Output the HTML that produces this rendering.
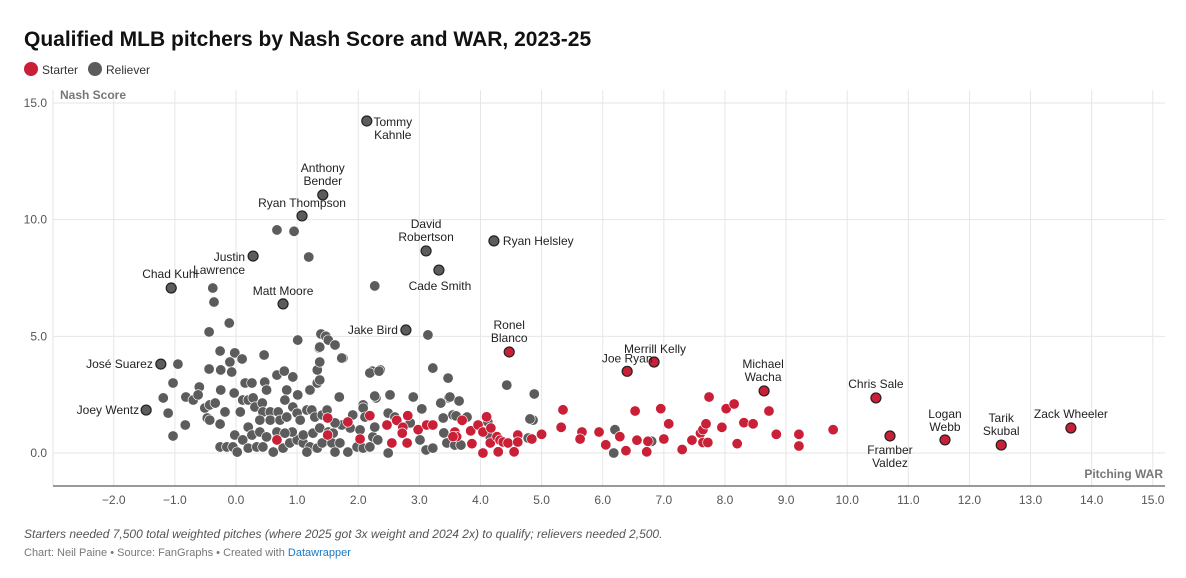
<!DOCTYPE html>
<html><head><meta charset="utf-8">
<style>
body{margin:0;background:#fff;font-family:"Liberation Sans",sans-serif;}
#wrap{position:relative;width:1186px;height:578px;overflow:hidden;}
svg text{font-family:"Liberation Sans",sans-serif;}
</style></head>
<body>
<div id="wrap">
<svg id="chart" width="1186" height="578">
<text x="24" y="46" font-size="21" font-weight="bold" fill="#111">Qualified MLB pitchers by Nash Score and WAR, 2023-25</text>
<g>
<circle cx="31" cy="69" r="7" fill="#c91f37"/>
<text x="42" y="74" font-size="12" fill="#333">Starter</text>
<circle cx="95" cy="69" r="7" fill="#5c5c5c"/>
<text x="106" y="74" font-size="12" fill="#333">Reliever</text>
</g>
<g id="grid"></g>
<g id="points"></g>
<g id="labels"></g>
<text x="60" y="99" font-size="12" font-weight="bold" fill="#777">Nash Score</text>
<text x="1163" y="478" font-size="12" font-weight="bold" fill="#777" text-anchor="end">Pitching WAR</text>
<text x="24" y="538" font-size="12" font-style="italic" fill="#555">Starters needed 7,500 total weighted pitches (where 2025 got 3x weight and 2024 2x) to qualify; relievers needed 2,500.</text>
<text x="24" y="556" font-size="11" fill="#777">Chart: Neil Paine • Source: FanGraphs • Created with <tspan fill="#1a78c2">Datawrapper</tspan></text>
</svg>
</div>
<script>
const xTicks=[-2,-1,0,1,2,3,4,5,6,7,8,9,10,11,12,13,14,15];
const yTicks=[0,5,10,15];
const starterWar=[4.99,5.35,5.32,5.66,5.63,5.94,6.05,6.28,6.38,6.53,6.56,6.74,6.72,6.95,7.0,7.08,7.3,7.46,7.6,7.64,7.69,7.64,7.72,7.74,7.95,8.02,8.15,8.2,8.31,8.46,8.72,8.84,9.21,9.21,9.77,
1.83,2.19,2.47,2.63,2.81,2.73,2.72,2.8,2.98,3.12,3.22,3.58,3.61,3.55,3.7,3.86,3.84,3.96,4.04,4.1,4.17,4.04,4.16,4.27,4.32,4.37,4.29,4.45,4.55,4.61,4.61,4.84,5.0,2.55,2.03,0.67,1.5,1.5];
const starterNash=[0.8,1.85,1.1,0.9,0.6,0.9,0.35,0.7,0.1,1.8,0.55,0.5,0.05,1.9,0.6,1.25,0.15,0.55,0.85,1.0,1.25,0.45,0.45,2.4,1.1,1.9,2.1,0.4,1.3,1.25,1.8,0.8,0.8,0.3,1.0,
1.33,1.6,1.2,1.4,1.6,1.1,0.85,0.43,1.0,1.2,1.2,0.9,0.7,0.7,1.4,0.4,0.95,1.2,0.9,1.55,1.07,0.0,0.43,0.7,0.55,0.47,0.05,0.43,0.05,0.77,0.47,0.6,0.8,0.43,0.6,0.56,1.5,0.77];
const relieverWar=[6.2,6.18,6.8,0.67,0.95,1.19,2.27,-0.38,-0.36,-0.11,-0.44,3.14,1.01,1.39,1.47,1.36,1.75,2.23,2.36,3.22,3.47,4.43,4.88,3.48,2.52,2.29,3.55,4.86,4.8,
-0.26,-0.02,0.1,0.46,-0.95,-0.44,-0.25,-0.1,-0.07,-1.03,-0.6,-0.25,-0.03,0.15,0.26,0.47,0.5,0.67,0.79,0.93,0.83,0.8,1.01,1.21,1.33,1.37,1.33,1.37,1.37,
-1.19,-0.82,-0.7,-0.62,-1.11,-0.83,-1.03,-0.51,-0.43,-0.34,-0.47,-0.43,-0.18,-0.26,0.07,0.11,0.2,0.28,0.31,0.43,0.44,0.56,0.69,0.39,0.56,0.72,0.83,0.93,1.0,1.05,1.16,1.24,1.29,1.41,1.49,0.2,-0.02,0.26,0.39,0.5,0.11,-0.26,-0.15,-0.05,0.02,0.2,0.34,0.44,0.61,0.77,0.88,1.0,1.1,1.21,1.16,1.33,1.41,0.92,1.1,1.26,1.37,0.67,0.8,
1.51,1.62,1.73,2.19,2.34,1.69,2.27,2.08,2.08,2.11,1.91,1.87,1.73,1.62,1.51,1.59,1.57,1.7,1.62,1.83,1.98,2.08,2.19,2.24,2.32,2.27,2.03,2.49,2.6,2.49,2.85,2.9,3.04,3.35,3.5,3.65,3.39,3.6,3.78,3.4,3.45,3.58,3.68,3.01,3.11,3.22,4.12,4.16,4.81,4.78];
const relieverNash=[1.0,0.0,0.5,9.56,9.5,8.4,7.16,7.07,6.47,5.57,5.19,5.06,4.84,5.1,5.0,4.5,4.07,3.51,3.56,3.64,3.21,2.91,2.53,2.36,2.49,2.36,1.63,1.41,0.64,
4.37,4.29,4.03,4.2,3.81,3.6,3.56,3.9,3.47,3.0,2.83,2.7,2.57,3.0,3.0,3.04,2.7,3.34,3.51,3.26,2.7,2.27,2.49,2.7,3.0,3.13,3.56,3.9,4.54,
2.36,2.4,2.27,2.49,1.71,1.2,0.73,1.93,2.06,2.14,1.5,1.41,1.76,1.24,1.76,2.27,2.27,2.36,1.97,2.14,1.76,1.76,1.76,1.41,1.41,1.41,1.54,1.97,1.71,1.41,1.84,1.84,1.54,1.63,1.84,1.11,0.77,0.77,0.9,0.69,0.56,0.26,0.26,0.26,0.04,0.21,0.26,0.26,0.04,0.21,0.43,0.56,0.43,0.26,0.04,0.21,0.43,0.9,0.77,0.85,1.07,0.9,0.85,
4.84,4.63,4.07,3.43,3.51,2.4,2.44,2.06,1.93,1.54,1.63,1.07,1.2,1.29,0.9,0.85,0.43,0.43,0.04,0.04,0.26,0.21,0.26,0.69,0.56,1.11,0.99,1.71,1.54,0.0,1.29,2.4,1.89,2.14,2.4,2.23,1.5,1.59,1.54,0.86,0.43,0.34,0.34,0.56,0.13,0.21,1.33,0.69,1.46,0.64];
const labeledNames=["Tommy|Kahnle","Anthony|Bender","Ryan Thompson","David|Robertson","Ryan Helsley","Cade Smith","Justin|Lawrence","Chad Kuhl","Matt Moore","Jake Bird","José Suarez","Joey Wentz","Ronel|Blanco","Merrill Kelly","Joe Ryan","Michael|Wacha","Chris Sale","Framber|Valdez","Logan|Webb","Tarik|Skubal","Zack Wheeler"];
const labeledWar=[2.14,1.42,1.08,3.11,4.22,3.32,0.28,-1.06,0.77,2.78,-1.23,-1.47,4.47,6.84,6.4,8.64,10.47,10.7,11.6,12.52,13.66];
const labeledNash=[14.23,11.06,10.16,8.66,9.09,7.84,8.44,7.07,6.39,5.27,3.81,1.84,4.33,3.9,3.5,2.66,2.36,0.73,0.56,0.34,1.07];
const labeledType=["r","r","r","r","r","r","r","r","r","r","r","r","s","s","s","s","s","s","s","s","s"];
// label placement (pixel offsets, anchor) — presentation only
const lblDx=[26,0,0,0,9,1,-8,-1,0,-8,-8,-7,0,1,0,-1,0,0,0,0,0];
const lblDy=[5,-23,-9,-23,4,20,5,-10,-9,4,4,4,-23,-9,-9,-23,-10,18,-22,-23,-10];
const lblAnchor=["middle","middle","middle","middle","start","middle","end","middle","middle","end","end","end","middle","middle","middle","middle","middle","middle","middle","middle","middle"];

const X=v=>236+v*61.12, Y=v=>453-v*23.333;
const NS="http://www.w3.org/2000/svg";
function mk(tag,attrs,parent){const e=document.createElementNS(NS,tag);for(const k in attrs)e.setAttribute(k,attrs[k]);parent.appendChild(e);return e;}
const grid=document.getElementById('grid'),pts=document.getElementById('points'),lbl=document.getElementById('labels');
xTicks.forEach(t=>{
  const l=mk('line',{x1:X(t),x2:X(t),y1:90,y2:486,stroke:'#e6e6e6','stroke-width':1},grid);
  
  
  const tx=mk('text',{x:X(t),y:504,'font-size':12,fill:'#555','text-anchor':'middle'},grid);
  tx.textContent=(t<0?'\u2212'+Math.abs(t).toFixed(1):t.toFixed(1));
  
  
});
mk('line',{x1:53,x2:53,y1:90,y2:486,stroke:'#e6e6e6'},grid);
yTicks.forEach(t=>{
  const l=mk('line',{x1:53,x2:1165,y1:Y(t),y2:Y(t),stroke:'#e6e6e6'},grid);
  
  
  const tx=mk('text',{x:47,y:Y(t)+4,'font-size':12,fill:'#555','text-anchor':'end'},grid);
  tx.textContent=t.toFixed(1);
  
  
});
const ax=mk('line',{x1:53,x2:1165,y1:486,y2:486,stroke:'#333','stroke-width':1},grid);


relieverWar.forEach((w,i)=>{
  const c=mk('circle',{cx:X(w),cy:Y(relieverNash[i]),r:5.2,fill:'#5c5c5c',stroke:'#fff','stroke-width':0.6},pts);
  
  
});
starterWar.forEach((w,i)=>{
  const c=mk('circle',{cx:X(w),cy:Y(starterNash[i]),r:5.2,fill:'#c91f37',stroke:'#fff','stroke-width':0.6},pts);
  
  
});
labeledWar.forEach((w,i)=>{
  const cx=X(w),cy=Y(labeledNash[i]);
  const c=mk('circle',{cx:cx,cy:cy,r:5,fill:labeledType[i]==='s'?'#c91f37':'#5c5c5c',stroke:'#222','stroke-width':1.2},pts);
  
  
  const lines=labeledNames[i].split('|');
  lines.forEach((ln,j)=>{
    const t=mk('text',{x:cx+lblDx[i],y:cy+lblDy[i]+j*13,'font-size':12,fill:'#222','text-anchor':lblAnchor[i]},lbl);
    t.textContent=ln;
    
    
  });
});
</script>
</body></html>
